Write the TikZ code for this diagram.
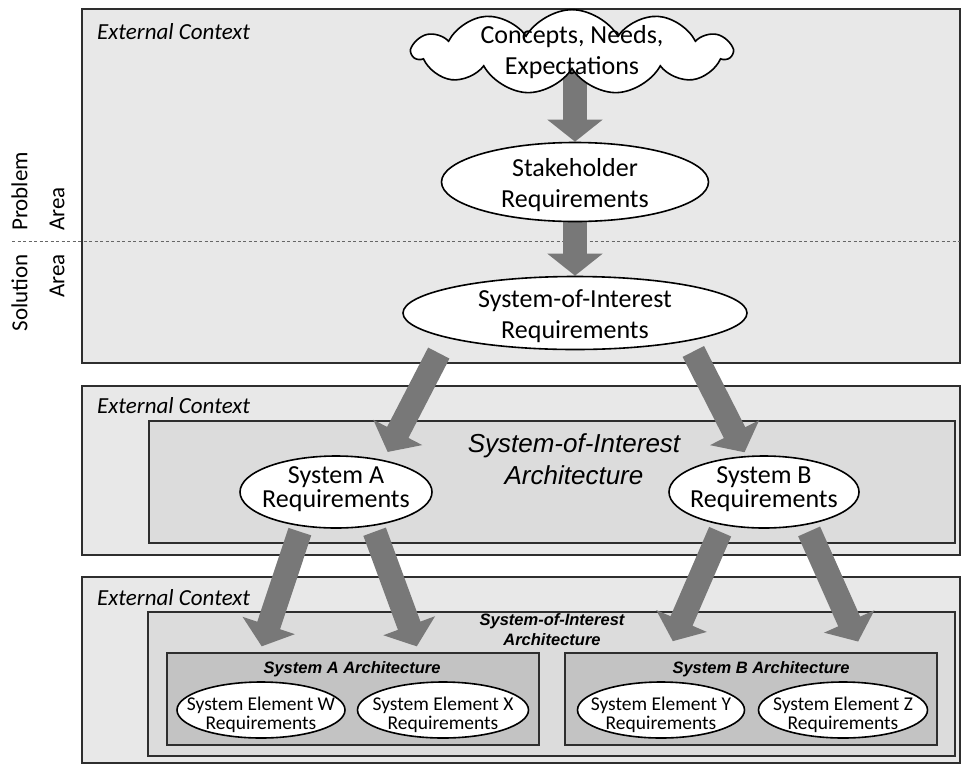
\documentclass[tikz,border=0pt]{standalone}
\usepackage{fontspec}
\setmainfont{Carlito}
\newfontfamily\arialfont{Liberation Sans}
\usetikzlibrary{shapes.geometric,shapes.symbols,arrows.meta}
\definecolor{ctxgray}{HTML}{E8E8E8}
\definecolor{archgray}{HTML}{DCDCDC}
\definecolor{subgray}{HTML}{C3C3C3}
\definecolor{fatgray}{HTML}{787878}
\definecolor{edgegray}{HTML}{2E2E2E}
\pgfdeclarelayer{boxes}
\pgfdeclarelayer{flows}
\pgfsetlayers{boxes,flows,main}

\begin{document}
\begin{tikzpicture}[x=1pt,y=-1pt,
    box/.style={draw=edgegray,line width=2pt},
    req/.style={ellipse,draw=black,line width=1.6pt,fill=white,inner sep=0pt},
    reqtext/.style={align=center,inner sep=0pt,font=\fontsize{26}{31}\selectfont},
    tighttext/.style={align=center,inner sep=0pt,font=\fontsize{26}{24}\selectfont},
    elemtext/.style={align=center,inner sep=0pt,font=\fontsize{19.5}{19}\selectfont},
    ctx/.style={anchor=base west,inner sep=0pt,font=\fontsize{23}{28}\selectfont\itshape},
    side/.style={rotate=90,inner sep=0pt,font=\fontsize{23}{37}\selectfont},
    archlabel/.style={inner sep=0pt,font=\arialfont\bfseries\itshape\fontsize{16.5}{20}\selectfont},
    fat/.style={draw=fatgray,line width=24pt,-{Triangle[width=54pt,length=22pt]}}]
    \useasboundingbox (0,0) rectangle (963,764);

    \begin{pgfonlayer}{boxes}
    \draw[box,fill=ctxgray] (82,9) rectangle (960,363);
    \draw[box,fill=ctxgray] (82,386) rectangle (960,555);
    \draw[box,fill=archgray] (149,421) rectangle (955,543);
    \draw[box,fill=ctxgray] (82,577) rectangle (960,763);
    \draw[box,fill=archgray] (148,612) rectangle (955,756);
    \draw[box,fill=subgray] (167,653) rectangle (539,745);
    \draw[box,fill=subgray] (565,653) rectangle (937,745);
    \draw[gray!80!black,line width=1pt,dash pattern=on 3pt off 2.5pt] (12,241) -- (960,241);
    \end{pgfonlayer}

    \node[ctx] (ctxtop) at (97,39) {External Context};
    \node[ctx] (ctxmid) at (97,413) {External Context};
    \node[ctx] (ctxlow) at (97,605) {External Context};

    \node[side,anchor=west,align=left] (problem) at (38,231) {Problem\\Area};
    \node[side,anchor=east,align=right] (solution) at (38,254) {Solution\\Area};

    \node[cloud,draw=black,line width=1.6pt,fill=white,cloud puffs=11,cloud puff arc=120,cloud ignores aspect,
        reqtext,inner xsep=24pt,inner ysep=-15pt] (needs) at (572,52) {Concepts, Needs,\\Expectations};
    \node[req,minimum width=267pt,minimum height=79pt,
        label={[reqtext,yshift=-3pt]center:Stakeholder\\Requirements}] (stake) at (575,182) {};
    \node[req,minimum width=344pt,minimum height=73pt,
        label={[reqtext,yshift=-3pt]center:System-of-Interest\\Requirements}] (soireq) at (575,313) {};

    \node[align=center,inner sep=0pt,font=\arialfont\itshape\fontsize{26}{32}\selectfont] (soiarch) at (574,459) {System-of-Interest\\Architecture};
    \node[req,minimum width=192pt,minimum height=72pt,
        label={[tighttext,yshift=2.5pt]center:System A\\Requirements}] (sysa) at (336,492) {};
    \node[req,minimum width=190pt,minimum height=72pt,
        label={[tighttext,yshift=2.5pt]center:System B\\Requirements}] (sysb) at (764,492) {};

    \node[archlabel,align=center] (soiarchlow) at (552,630) {System-of-Interest\\Architecture};
    \node[archlabel,anchor=base] (archa) at (352,673) {System A Architecture};
    \node[archlabel,anchor=base] (archb) at (761,673) {System B Architecture};
    \node[req,minimum width=168pt,minimum height=56pt,
        label={[elemtext,yshift=-5pt]center:System Element W\\Requirements}] (elemw) at (261,710) {};
    \node[req,minimum width=171pt,minimum height=56pt,
        label={[elemtext,yshift=-5pt]center:System Element X\\Requirements}] (elemx) at (443,710) {};
    \node[req,minimum width=167pt,minimum height=56pt,
        label={[elemtext,yshift=-5pt]center:System Element Y\\Requirements}] (elemy) at (661,710) {};
    \node[req,minimum width=169pt,minimum height=56pt,
        label={[elemtext,yshift=-5pt]center:System Element Z\\Requirements}] (elemz) at (843,710) {};

    \begin{pgfonlayer}{flows}
    \draw[fat] (stake.north |- needs.center) -- (stake.north);
    \draw[fat] (stake.center) -- (soireq.north);
    \draw[fat,shorten <=17pt,shorten >=9pt] (soireq.191) -- (sysa.34);
    \draw[fat,shorten <=11.5pt,shorten >=4pt] (soireq.346) -- (sysb.116);
    \draw[fat,shorten <=5.5pt,shorten >=37pt] (sysa.225) -- (elemw.111);
    \draw[fat,shorten <=6pt,shorten >=37.5pt] (sysa.317) -- (elemx.115);
    \draw[fat,shorten <=7pt,shorten >=43.7pt] (sysb.219) -- (elemy.101);
    \draw[fat,shorten <=7pt,shorten >=46pt] (sysb.322) -- (elemz.38);
    \end{pgfonlayer}
\end{tikzpicture}
\end{document}
